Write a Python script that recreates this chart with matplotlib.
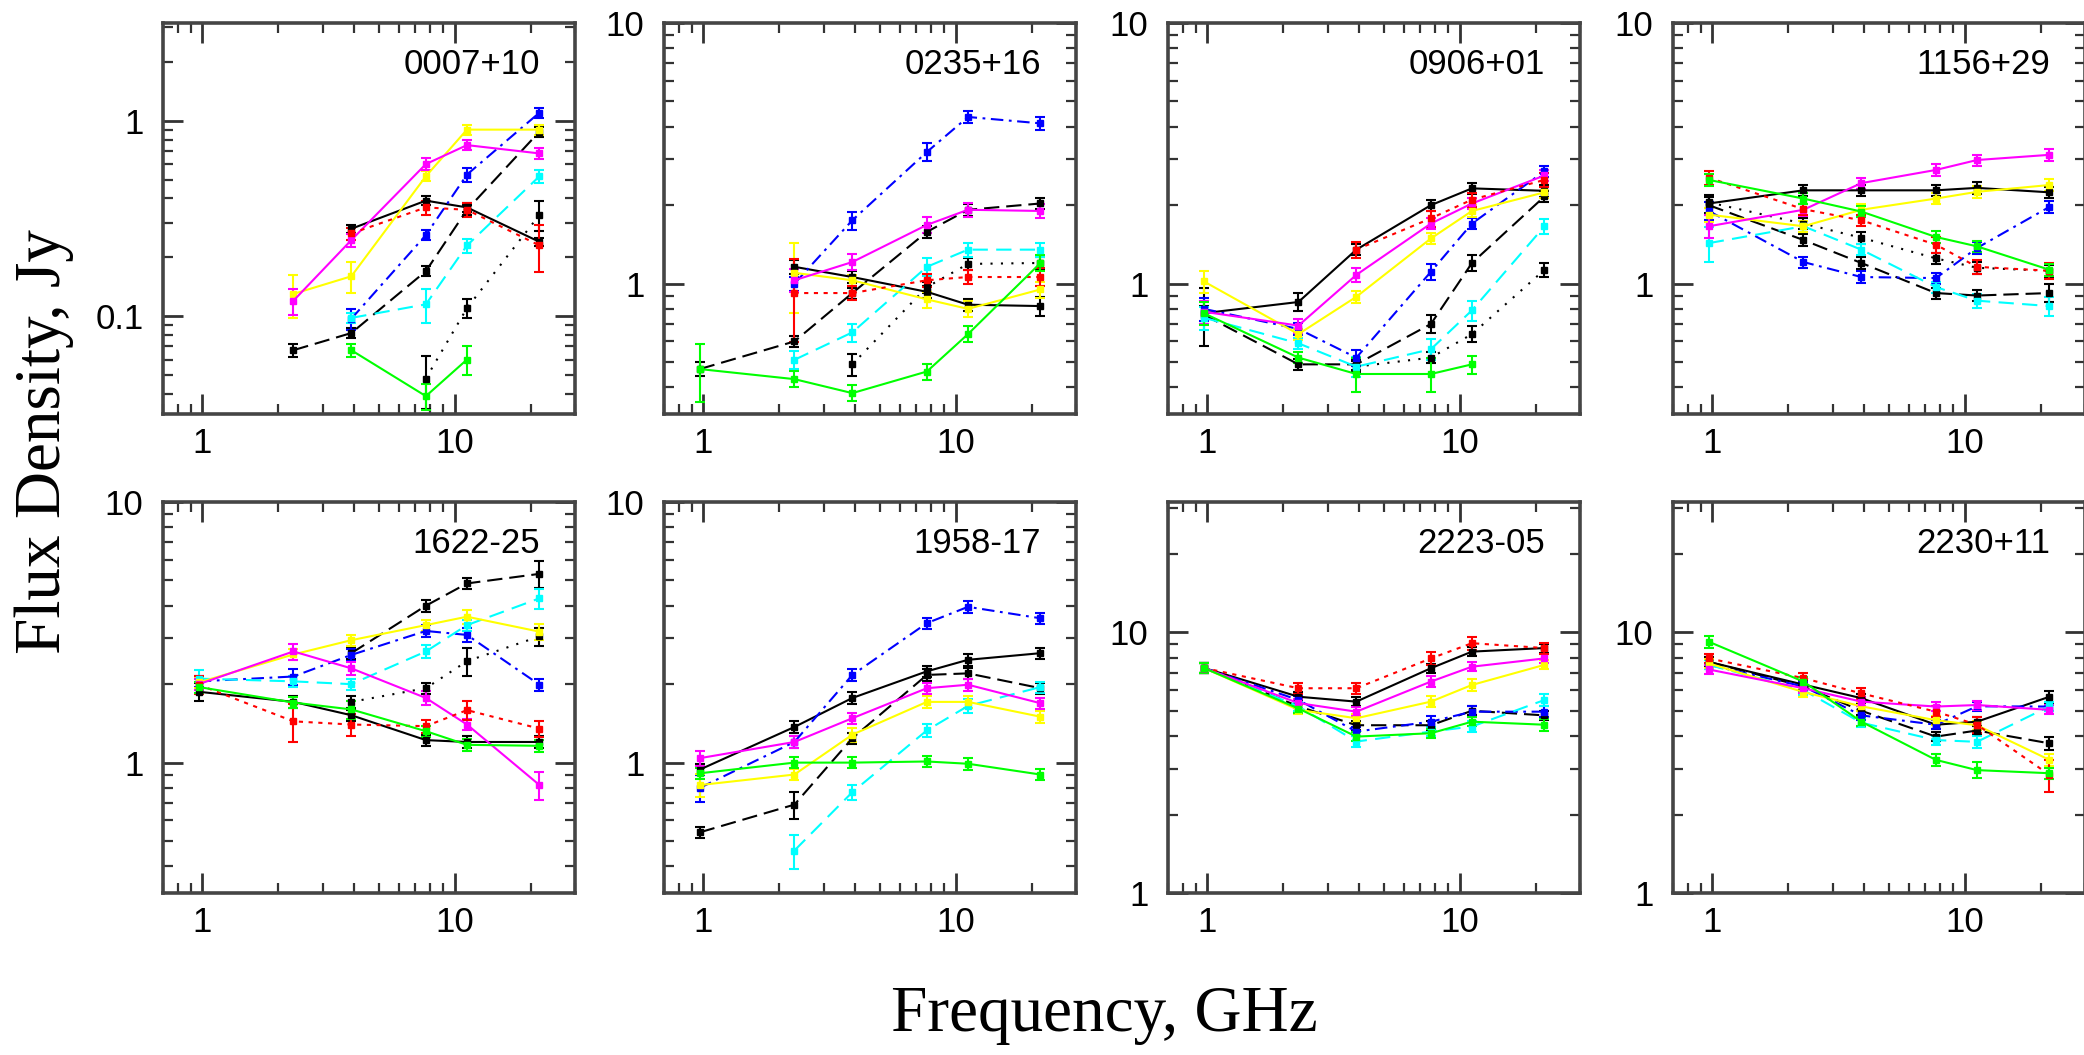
import numpy as np
import matplotlib
matplotlib.use('Agg')
import matplotlib.pyplot as plt
from matplotlib.ticker import LogLocator, FuncFormatter, NullFormatter

plt.rcParams['font.family'] = ['Liberation Sans', 'DejaVu Sans']
plt.rcParams['lines.scale_dashes'] = False

n = np.nan

### DATA
FREQ = [0.97, 2.3, 3.9, 7.7, 11.2, 21.7]
SOURCES = ['0007+10', '0235+16', '0906+01', '1156+29',
           '1622-25', '1958-17', '2223-05', '2230+11']

# rows: black solid, black dashed, black dotted, blue, cyan, yellow, magenta, red, green
flux_0007 = [
    [n, n, 0.28, 0.39, 0.36, 0.24],
    [n, 0.067, 0.082, 0.17, 0.35, 0.88],
    [n, n, n, 0.048, 0.11, 0.33],
    [n, n, 0.097, 0.26, 0.53, 1.1],
    [n, n, 0.098, 0.115, 0.23, 0.52],
    [n, 0.13, 0.16, 0.52, 0.9, 0.9],
    [n, 0.12, 0.245, 0.6, 0.75, 0.68],
    [n, n, 0.265, 0.36, 0.35, 0.23],
    [n, n, 0.067, 0.039, 0.06, n],
]
flux_0235 = [
    [n, 1.16, 1.06, 0.93, 0.83, 0.82],
    [0.47, 0.60, 0.92, 1.58, 1.92, 2.03],
    [n, n, 0.49, 0.97, 1.19, 1.2],
    [n, 1.0, 1.75, 3.2, 4.36, 4.12],
    [n, 0.51, 0.65, 1.16, 1.35, 1.35],
    [n, 1.1, 1.03, 0.87, 0.8, 0.95],
    [n, 1.03, 1.21, 1.68, 1.92, 1.9],
    [n, 0.92, 0.92, 1.03, 1.06, 1.06],
    [0.47, 0.43, 0.38, 0.46, 0.64, 1.2],
]
flux_0906 = [
    [0.77, 0.85, 1.35, 2.0, 2.32, 2.27],
    [0.76, 0.49, 0.49, 0.70, 1.2, 2.16],
    [n, n, 0.48, 0.52, 0.64, 1.13],
    [0.8, 0.67, 0.52, 1.11, 1.7, 2.7],
    [0.74, 0.59, 0.48, 0.56, 0.79, 1.66],
    [1.02, 0.64, 0.89, 1.49, 1.9, 2.24],
    [0.78, 0.69, 1.08, 1.7, 2.03, 2.6],
    [n, n, 1.35, 1.78, 2.1, 2.5],
    [0.77, 0.52, 0.45, 0.45, 0.49, n],
]
flux_1156 = [
    [2.03, 2.28, 2.28, 2.28, 2.33, 2.24],
    [2.0, 1.47, 1.2, 0.92, 0.9, 0.92],
    [2.05, 1.7, 1.5, 1.25, 1.15, 1.12],
    [1.9, 1.21, 1.06, 1.05, 1.37, 1.97],
    [1.43, 1.66, 1.35, 0.97, 0.86, 0.82],
    [1.84, 1.66, 1.92, 2.12, 2.25, 2.39],
    [1.66, 1.92, 2.43, 2.73, 2.98, 3.12],
    [2.55, 1.93, 1.75, 1.41, 1.16, 1.12],
    [2.5, 2.12, 1.89, 1.51, 1.39, 1.13],
]
flux_1622 = [
    [1.87, 1.71, 1.52, 1.22, 1.2, 1.2],
    [n, n, 2.63, 4.0, 4.87, 5.3],
    [n, n, 1.71, 1.93, 2.45, 3.05],
    [2.05, 2.14, 2.59, 3.2, 3.09, 1.99],
    [2.1, 2.05, 2.0, 2.67, 3.37, 4.27],
    [2.03, 2.6, 2.95, 3.37, 3.63, 3.18],
    [2.0, 2.67, 2.3, 1.77, 1.4, 0.82],
    [1.99, 1.44, 1.4, 1.38, 1.59, 1.35],
    [1.95, 1.7, 1.6, 1.32, 1.17, 1.16],
]
flux_1958 = [
    [0.94, 1.37, 1.77, 2.24, 2.48, 2.63],
    [0.54, 0.69, 1.24, 2.17, 2.2, 1.93],
    [n, n, n, n, n, n],
    [0.8, 1.2, 2.17, 3.43, 3.96, 3.58],
    [n, 0.46, 0.77, 1.33, 1.65, 1.95],
    [0.82, 0.9, 1.28, 1.71, 1.71, 1.5],
    [1.04, 1.2, 1.48, 1.93, 1.99, 1.69],
    [n, n, n, n, n, n],
    [0.91, 1.0, 1.0, 1.01, 0.99, 0.9],
]
flux_2223 = [
    [7.3, 5.66, 5.42, 7.28, 8.43, 8.7],
    [7.3, 5.2, 4.4, 4.4, 5.0, 4.8],
    [n, n, n, n, n, n],
    [7.3, 5.5, 4.16, 4.54, 4.96, 4.96],
    [7.3, 5.2, 3.81, 4.16, 4.35, 5.5],
    [7.3, 5.04, 4.68, 5.42, 6.28, 7.5],
    [7.3, 5.35, 4.96, 6.47, 7.38, 7.94],
    [7.3, 6.1, 6.1, 7.94, 9.08, 8.7],
    [7.3, 5.1, 3.98, 4.1, 4.54, 4.42],
]
flux_2230 = [
    [7.7, 6.3, 5.59, 4.42, 4.54, 5.66],
    [7.7, 6.2, 5.0, 3.98, 4.2, 3.75],
    [n, n, n, n, n, n],
    [7.5, 6.2, 4.8, 4.42, 5.2, 5.19],
    [7.5, 6.0, 4.5, 3.86, 3.8, 5.2],
    [7.6, 5.9, 5.2, 4.6, 4.4, 3.24],
    [7.2, 6.1, 5.42, 5.19, 5.26, 5.04],
    [7.94, 6.67, 5.83, 4.96, 4.42, 2.84],
    [9.2, 6.47, 4.54, 3.24, 2.96, 2.88],
]

# relative errors, same layout as the flux tables
err_0007 = [
    [.05, .05, .05, .05, .05, .05],
    [.06, .08, .06, .06, .06, .06],
    [.05, .05, .05, .30, .11, .17],
    [.05, .05, .12, .06, .08, .06],
    [.05, .05, .06, .20, .08, .08],
    [.05, .25, .18, .06, .06, .06],
    [.05, .15, .08, .07, .06, .06],
    [.05, .05, .07, .08, .08, .27],
    [.05, .05, .08, .15, .17, .05],
]
err_0235 = [
    [.05, .06, .05, .05, .05, .08],
    [.06, .05, .05, .05, .05, .05],
    [.05, .05, .10, .05, .05, .05],
    [.05, .06, .08, .08, .05, .06],
    [.05, .08, .08, .08, .06, .06],
    [.05, .30, .05, .07, .07, .07],
    [.05, .10, .07, .07, .06, .06],
    [.05, .35, .06, .06, .06, .08],
    [.25, .07, .07, .07, .07, .07],
]
err_0906 = [
    [.25, .08, .05, .05, .05, .05],
    [.08, .05, .05, .08, .07, .05],
    [.05, .05, .05, .05, .07, .06],
    [.10, .05, .07, .07, .05, .05],
    [.10, .05, .09, .09, .09, .07],
    [.10, .05, .05, .05, .05, .05],
    [.10, .06, .06, .05, .05, .05],
    [.05, .05, .07, .07, .06, .06],
    [.10, .05, .15, .15, .08, .05],
]
err_1156 = [
    [.08, .05, .05, .05, .05, .05],
    [.08, .05, .05, .05, .05, .08],
    [.05, .05, .05, .05, .05, .05],
    [.08, .05, .05, .05, .05, .05],
    [.15, .05, .05, .05, .06, .08],
    [.06, .05, .05, .05, .05, .05],
    [.10, .05, .05, .05, .05, .05],
    [.06, .05, .05, .07, .06, .07],
    [.05, .05, .05, .05, .05, .05],
]
err_1622 = [
    [.08, .05, .05, .05, .05, .05],
    [.05, .05, .05, .05, .05, .12],
    [.05, .05, .05, .05, .12, .08],
    [.05, .07, .05, .05, .06, .05],
    [.08, .05, .05, .06, .05, .09],
    [.05, .05, .05, .05, .06, .07],
    [.05, .07, .06, .06, .05, .12],
    [.08, .17, .10, .06, .08, .07],
    [.05, .05, .08, .05, .05, .05],
]
err_1958 = [
    [.05, .05, .05, .05, .05, .05],
    [.05, .12, .05, .05, .05, .05],
    [.05, .05, .05, .05, .05, .05],
    [.12, .05, .05, .05, .05, .05],
    [.05, .15, .07, .06, .06, .05],
    [.10, .05, .06, .05, .05, .05],
    [.07, .05, .05, .05, .05, .05],
    [.05, .05, .05, .05, .05, .05],
    [.05, .05, .05, .05, .05, .05],
]
err_2223 = [
    [.04, .04, .04, .04, .04, .04],
    [.04, .04, .04, .04, .04, .04],
    [.04, .04, .04, .04, .04, .04],
    [.04, .04, .04, .05, .05, .05],
    [.04, .04, .05, .04, .05, .05],
    [.04, .04, .04, .05, .05, .04],
    [.04, .04, .04, .05, .04, .04],
    [.04, .05, .05, .06, .06, .05],
    [.04, .04, .04, .04, .04, .05],
]
err_2230 = [
    [.04, .04, .04, .04, .04, .05],
    [.04, .04, .04, .04, .04, .06],
    [.04, .04, .04, .04, .04, .04],
    [.04, .04, .04, .04, .04, .04],
    [.04, .04, .04, .04, .05, .04],
    [.04, .04, .04, .04, .04, .05],
    [.04, .04, .04, .04, .04, .04],
    [.04, .05, .05, .05, .07, .14],
    [.05, .04, .04, .05, .07, .05],
]

FLUX = [flux_0007, flux_0235, flux_0906, flux_1156,
        flux_1622, flux_1958, flux_2223, flux_2230]
ERRS = [err_0007, err_0235, err_0906, err_1156,
        err_1622, err_1958, err_2223, err_2230]
YLIMS = [(0.0316, 3.16), (0.316, 10), (0.316, 10), (0.316, 10),
         (0.316, 10), (0.316, 10), (1, 31.6), (1, 31.6)]

# line styles of the nine series
STYLES = [
    ('#000000', '-'),
    ('#000000', (0, (11, 5))),
    ('#000000', (0, (1.5, 6))),
    ('#0000ff', (0, (9, 4, 2, 4))),
    ('#00ffff', (0, (11, 6))),
    ('#ffff00', '-'),
    ('#ff00ff', '-'),
    ('#ff0000', (0, (3, 4))),
    ('#00ff00', '-'),
]

### LAYOUT (pixels of the 2084x1055 picture)
W, H = 2084, 1055
LEFTS = [163, 664, 1168, 1673]
TOPS = [23, 502]
PW, PH = 412, 391

fig = plt.figure(figsize=(W / 100, H / 100), dpi=100)
fmt = FuncFormatter(lambda v, p: '%g' % v)

for i, name in enumerate(SOURCES):
    row, col = divmod(i, 4)
    l, t = LEFTS[col], TOPS[row]
    ax = fig.add_axes([l / W, 1 - (t + PH) / H, PW / W, PH / H])
    ax.set_xscale('log')
    ax.set_yscale('log')

    for k, (c, ls) in enumerate(STYLES):
        v = np.array(FLUX[i][k], dtype=float)
        if np.all(np.isnan(v)):
            continue
        e = v * np.array(ERRS[i][k])
        ax.errorbar(FREQ, v, yerr=e, color=c, ls=ls, lw=1.5,
                    marker='s', ms=5, mfc=c, mec=c,
                    elinewidth=1.5, capsize=3.5, capthick=1.5)

    ax.set_xlim(0.7, 30)
    ax.set_ylim(*YLIMS[i])
    for a in (ax.xaxis, ax.yaxis):
        a.set_major_locator(LogLocator(base=10, numticks=10))
        a.set_minor_locator(LogLocator(base=10, subs=np.arange(2, 10), numticks=20))
        a.set_major_formatter(fmt)
        a.set_minor_formatter(NullFormatter())
    ax.tick_params(which='both', direction='in', top=True, right=True,
                   color='#333333')
    ax.tick_params(which='major', length=14.5, width=2.0, labelsize=25)
    ax.tick_params(axis='x', which='major', pad=9)
    ax.tick_params(axis='y', which='major', pad=14)
    ax.tick_params(which='minor', length=7.5, width=1.6)
    for s in ax.spines.values():
        s.set_linewidth(2.6)
        s.set_color('#454545')

    ax.text(0.915, 0.893, name, transform=ax.transAxes, ha='right',
            va='center', fontsize=25)

fig.text(44 / W, 1 - 442 / H, 'Flux Density, Jy', rotation=90,
         fontsize=47, family='Liberation Serif', ha='center', va='center')
fig.text(1104 / W, 1 - 1015 / H, 'Frequency, GHz',
         fontsize=47, family='Liberation Serif', ha='center', va='center')

fig.savefig('out.png', dpi=100)
